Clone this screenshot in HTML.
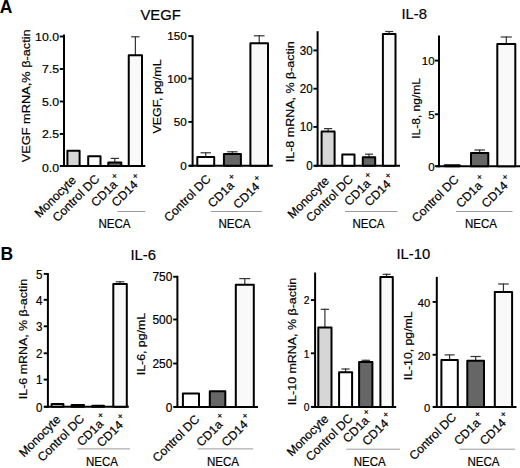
<!DOCTYPE html>
<html><head><meta charset="utf-8">
<style>
html,body{margin:0;padding:0;background:#fff;}
body{width:520px;height:468px;overflow:hidden;}
svg{display:block;}
text{font-family:"Liberation Sans",sans-serif;fill:#000;stroke:#000;stroke-width:0.2px;}
</style></head>
<body>
<svg width="520" height="468" viewBox="0 0 520 468">
<rect width="520" height="468" fill="#fff"/>
<text x="-0.3" y="12.6" font-size="17.5" font-weight="bold" style="stroke-width:0">A</text>
<text x="0.5" y="259.5" font-size="17.5" font-weight="bold" style="stroke-width:0">B</text>
<text transform="translate(140.50,19.60)" font-size="14.8">VEGF</text>
<text transform="translate(401.50,18.70)" font-size="14.8">IL-8</text>
<text transform="translate(130.50,260.00)" font-size="14.8">IL-6</text>
<text transform="translate(396.50,259.20)" font-size="14.8">IL-10</text>
<line x1="64.00" y1="34.50" x2="64.00" y2="167.00" stroke="#000" stroke-width="2"/>
<line x1="60.50" y1="166.00" x2="145.30" y2="166.00" stroke="#000" stroke-width="2"/>
<line x1="59.80" y1="36.50" x2="64.00" y2="36.50" stroke="#000" stroke-width="1.9"/>
<text transform="translate(59.00,40.90) scale(1.09,1)" text-anchor="end" font-size="11.3">10.0</text>
<line x1="59.80" y1="69.00" x2="64.00" y2="69.00" stroke="#000" stroke-width="1.9"/>
<text transform="translate(59.00,73.40) scale(1.09,1)" text-anchor="end" font-size="11.3">7.5</text>
<line x1="59.80" y1="101.50" x2="64.00" y2="101.50" stroke="#000" stroke-width="1.9"/>
<text transform="translate(59.00,105.90) scale(1.09,1)" text-anchor="end" font-size="11.3">5.0</text>
<line x1="59.80" y1="134.00" x2="64.00" y2="134.00" stroke="#000" stroke-width="1.9"/>
<text transform="translate(59.00,138.40) scale(1.09,1)" text-anchor="end" font-size="11.3">2.5</text>
<line x1="59.80" y1="166.00" x2="64.00" y2="166.00" stroke="#000" stroke-width="1.9"/>
<text transform="translate(59.00,172.20) scale(1.09,1)" text-anchor="end" font-size="11.3">0.0</text>
<rect x="67.40" y="150.75" width="12.20" height="15.25" fill="#d6d6d6" stroke="#000" stroke-width="2" stroke-linejoin="round"/>
<rect x="88.20" y="156.30" width="12.30" height="9.70" fill="#ffffff" stroke="#000" stroke-width="2" stroke-linejoin="round"/>
<line x1="114.80" y1="157.90" x2="114.80" y2="162.50" stroke="#333" stroke-width="1.2"/>
<line x1="110.67" y1="158.40" x2="118.92" y2="158.40" stroke="#333" stroke-width="1.2"/>
<rect x="108.30" y="162.50" width="13.00" height="3.50" fill="#666666" stroke="#000" stroke-width="2" stroke-linejoin="round"/>
<line x1="135.38" y1="36.30" x2="135.38" y2="55.20" stroke="#333" stroke-width="1.2"/>
<line x1="131.18" y1="36.80" x2="139.57" y2="36.80" stroke="#333" stroke-width="1.2"/>
<rect x="128.75" y="55.20" width="13.25" height="110.80" fill="#f9f9f9" stroke="#000" stroke-width="2" stroke-linejoin="round"/>
<text transform="translate(29.70,162.20) rotate(-90)" font-size="11.2" textLength="132.90" lengthAdjust="spacingAndGlyphs">VEGF mRNA,%  β-actin</text>
<text transform="translate(76.80,181.00) rotate(-45)" text-anchor="end" font-size="12.2">Monocyte</text>
<text transform="translate(100.15,179.80) rotate(-45)" text-anchor="end" font-size="12.2">Control DC</text>
<text transform="translate(121.80,181.80) rotate(-45) translate(1.6,0)" text-anchor="end" font-size="12.2">CD1a<tspan font-size="9" dx="1.6" dy="-6.2">+</tspan></text>
<text transform="translate(142.38,181.80) rotate(-45) translate(1.6,0)" text-anchor="end" font-size="12.2">CD14<tspan font-size="9" dx="1.6" dy="-6.2">+</tspan></text>
<line x1="117.30" y1="211.50" x2="145.30" y2="211.50" stroke="#9a9a9a" stroke-width="1"/>
<text x="98.50" y="228.00" font-size="12" textLength="32" lengthAdjust="spacingAndGlyphs">NECA</text>
<line x1="192.60" y1="35.30" x2="192.60" y2="166.80" stroke="#000" stroke-width="2"/>
<line x1="189.00" y1="165.80" x2="272.80" y2="165.80" stroke="#000" stroke-width="2"/>
<line x1="188.40" y1="36.10" x2="192.60" y2="36.10" stroke="#000" stroke-width="1.9"/>
<text transform="translate(186.80,40.40) scale(1.0,1)" text-anchor="end" font-size="11.7">150</text>
<line x1="188.40" y1="78.60" x2="192.60" y2="78.60" stroke="#000" stroke-width="1.9"/>
<text transform="translate(186.80,82.90) scale(1.0,1)" text-anchor="end" font-size="11.7">100</text>
<line x1="188.40" y1="121.90" x2="192.60" y2="121.90" stroke="#000" stroke-width="1.9"/>
<text transform="translate(186.80,126.20) scale(1.0,1)" text-anchor="end" font-size="11.7">50</text>
<line x1="188.40" y1="165.80" x2="192.60" y2="165.80" stroke="#000" stroke-width="1.9"/>
<text transform="translate(186.80,170.10) scale(1.0,1)" text-anchor="end" font-size="11.7">0</text>
<line x1="205.75" y1="152.30" x2="205.75" y2="157.00" stroke="#333" stroke-width="1.2"/>
<line x1="200.55" y1="152.80" x2="210.95" y2="152.80" stroke="#333" stroke-width="1.2"/>
<rect x="197.30" y="157.00" width="16.90" height="8.80" fill="#ffffff" stroke="#000" stroke-width="2" stroke-linejoin="round"/>
<line x1="232.40" y1="151.30" x2="232.40" y2="153.90" stroke="#333" stroke-width="1.2"/>
<line x1="227.18" y1="151.80" x2="237.62" y2="151.80" stroke="#333" stroke-width="1.2"/>
<rect x="223.90" y="153.90" width="17.00" height="11.90" fill="#666666" stroke="#000" stroke-width="2" stroke-linejoin="round"/>
<line x1="259.20" y1="35.30" x2="259.20" y2="43.30" stroke="#333" stroke-width="1.2"/>
<line x1="253.81" y1="35.80" x2="264.59" y2="35.80" stroke="#333" stroke-width="1.2"/>
<rect x="250.40" y="43.30" width="17.60" height="122.50" fill="#f9f9f9" stroke="#000" stroke-width="2" stroke-linejoin="round"/>
<text transform="translate(161.10,133.60) rotate(-90)" font-size="11.2" textLength="74.20" lengthAdjust="spacingAndGlyphs">VEGF, pg/mL</text>
<text transform="translate(211.55,179.80) rotate(-45)" text-anchor="end" font-size="12.2">Control DC</text>
<text transform="translate(238.60,182.60) rotate(-45) translate(1.6,0)" text-anchor="end" font-size="12.2">CD1a<tspan font-size="9" dx="1.6" dy="-6.2">+</tspan></text>
<text transform="translate(264.00,183.70) rotate(-45) translate(1.6,0)" text-anchor="end" font-size="12.2">CD14<tspan font-size="9" dx="1.6" dy="-6.2">+</tspan></text>
<line x1="211.00" y1="211.50" x2="262.00" y2="211.50" stroke="#9a9a9a" stroke-width="1"/>
<text x="218.50" y="228.00" font-size="12" textLength="32" lengthAdjust="spacingAndGlyphs">NECA</text>
<line x1="317.60" y1="31.20" x2="317.60" y2="166.80" stroke="#000" stroke-width="2"/>
<line x1="314.50" y1="165.80" x2="400.00" y2="165.80" stroke="#000" stroke-width="2"/>
<line x1="313.40" y1="50.40" x2="317.60" y2="50.40" stroke="#000" stroke-width="1.9"/>
<text transform="translate(312.70,54.80) scale(0.93,1)" text-anchor="end" font-size="12.5">30</text>
<line x1="313.40" y1="88.70" x2="317.60" y2="88.70" stroke="#000" stroke-width="1.9"/>
<text transform="translate(312.70,93.10) scale(0.93,1)" text-anchor="end" font-size="12.5">20</text>
<line x1="313.40" y1="126.90" x2="317.60" y2="126.90" stroke="#000" stroke-width="1.9"/>
<text transform="translate(312.70,131.30) scale(0.93,1)" text-anchor="end" font-size="12.5">10</text>
<line x1="313.40" y1="165.80" x2="317.60" y2="165.80" stroke="#000" stroke-width="1.9"/>
<text transform="translate(312.70,170.20) scale(0.93,1)" text-anchor="end" font-size="12.5">0</text>
<line x1="328.10" y1="128.10" x2="328.10" y2="131.60" stroke="#333" stroke-width="1.2"/>
<line x1="323.98" y1="128.60" x2="332.23" y2="128.60" stroke="#333" stroke-width="1.2"/>
<rect x="321.60" y="131.60" width="13.00" height="34.20" fill="#d6d6d6" stroke="#000" stroke-width="2" stroke-linejoin="round"/>
<rect x="342.30" y="154.50" width="12.20" height="11.30" fill="#ffffff" stroke="#000" stroke-width="2" stroke-linejoin="round"/>
<line x1="369.00" y1="153.70" x2="369.00" y2="157.20" stroke="#333" stroke-width="1.2"/>
<line x1="365.04" y1="154.20" x2="372.96" y2="154.20" stroke="#333" stroke-width="1.2"/>
<rect x="362.80" y="157.20" width="12.40" height="8.60" fill="#666666" stroke="#000" stroke-width="2" stroke-linejoin="round"/>
<line x1="389.20" y1="31.00" x2="389.20" y2="34.10" stroke="#333" stroke-width="1.2"/>
<line x1="385.19" y1="31.50" x2="393.21" y2="31.50" stroke="#333" stroke-width="1.2"/>
<rect x="382.90" y="34.10" width="12.60" height="131.70" fill="#f9f9f9" stroke="#000" stroke-width="2" stroke-linejoin="round"/>
<text transform="translate(294.00,162.20) rotate(-90)" font-size="11.2" textLength="120.90" lengthAdjust="spacingAndGlyphs">IL-8 mRNA, % β-actin</text>
<text transform="translate(329.90,181.80) rotate(-45)" text-anchor="end" font-size="12.2">Monocyte</text>
<text transform="translate(353.70,180.10) rotate(-45)" text-anchor="end" font-size="12.2">Control DC</text>
<text transform="translate(375.00,180.80) rotate(-45) translate(1.6,0)" text-anchor="end" font-size="12.2">CD1a<tspan font-size="9" dx="1.6" dy="-6.2">+</tspan></text>
<text transform="translate(395.20,181.30) rotate(-45) translate(1.6,0)" text-anchor="end" font-size="12.2">CD14<tspan font-size="9" dx="1.6" dy="-6.2">+</tspan></text>
<line x1="345.00" y1="211.50" x2="397.50" y2="211.50" stroke="#9a9a9a" stroke-width="1"/>
<text x="352.50" y="228.00" font-size="12" textLength="32" lengthAdjust="spacingAndGlyphs">NECA</text>
<line x1="439.00" y1="35.60" x2="439.00" y2="167.20" stroke="#000" stroke-width="2"/>
<line x1="436.00" y1="166.20" x2="520.00" y2="166.20" stroke="#000" stroke-width="2"/>
<line x1="434.80" y1="60.60" x2="439.00" y2="60.60" stroke="#000" stroke-width="1.9"/>
<text transform="translate(434.60,65.40) scale(1.0,1)" text-anchor="end" font-size="11.5">10</text>
<line x1="434.80" y1="114.30" x2="439.00" y2="114.30" stroke="#000" stroke-width="1.9"/>
<text transform="translate(434.60,119.10) scale(1.0,1)" text-anchor="end" font-size="11.5">5</text>
<line x1="434.80" y1="166.20" x2="439.00" y2="166.20" stroke="#000" stroke-width="1.9"/>
<text transform="translate(434.60,171.00) scale(1.0,1)" text-anchor="end" font-size="11.5">0</text>
<rect x="444.80" y="165.20" width="14.80" height="1.00" fill="#ffffff" stroke="#000" stroke-width="2" stroke-linejoin="round"/>
<line x1="479.65" y1="149.50" x2="479.65" y2="152.90" stroke="#333" stroke-width="1.2"/>
<line x1="474.34" y1="150.00" x2="484.96" y2="150.00" stroke="#333" stroke-width="1.2"/>
<rect x="471.00" y="152.90" width="17.30" height="13.30" fill="#666666" stroke="#000" stroke-width="2" stroke-linejoin="round"/>
<line x1="506.30" y1="36.50" x2="506.30" y2="44.10" stroke="#333" stroke-width="1.2"/>
<line x1="500.80" y1="37.00" x2="511.80" y2="37.00" stroke="#333" stroke-width="1.2"/>
<rect x="497.30" y="44.10" width="18.00" height="122.10" fill="#f9f9f9" stroke="#000" stroke-width="2" stroke-linejoin="round"/>
<text transform="translate(419.70,138.80) rotate(-90)" font-size="11.2" textLength="60.80" lengthAdjust="spacingAndGlyphs">IL-8, ng/mL</text>
<text transform="translate(459.50,180.30) rotate(-45)" text-anchor="end" font-size="12.2">Control DC</text>
<text transform="translate(486.65,182.80) rotate(-45) translate(1.6,0)" text-anchor="end" font-size="12.2">CD1a<tspan font-size="9" dx="1.6" dy="-6.2">+</tspan></text>
<text transform="translate(512.30,182.80) rotate(-45) translate(1.6,0)" text-anchor="end" font-size="12.2">CD14<tspan font-size="9" dx="1.6" dy="-6.2">+</tspan></text>
<line x1="456.00" y1="211.50" x2="512.50" y2="211.50" stroke="#9a9a9a" stroke-width="1"/>
<text x="465.00" y="228.00" font-size="12" textLength="32" lengthAdjust="spacingAndGlyphs">NECA</text>
<line x1="47.90" y1="273.00" x2="47.90" y2="407.80" stroke="#000" stroke-width="2"/>
<line x1="44.40" y1="406.80" x2="128.80" y2="406.80" stroke="#000" stroke-width="2"/>
<line x1="43.70" y1="273.90" x2="47.90" y2="273.90" stroke="#000" stroke-width="1.9"/>
<text transform="translate(42.40,278.70) scale(0.93,1)" text-anchor="end" font-size="12.5">5</text>
<line x1="43.70" y1="299.80" x2="47.90" y2="299.80" stroke="#000" stroke-width="1.9"/>
<text transform="translate(42.40,304.60) scale(0.93,1)" text-anchor="end" font-size="12.5">4</text>
<line x1="43.70" y1="326.30" x2="47.90" y2="326.30" stroke="#000" stroke-width="1.9"/>
<text transform="translate(42.40,331.10) scale(0.93,1)" text-anchor="end" font-size="12.5">3</text>
<line x1="43.70" y1="353.30" x2="47.90" y2="353.30" stroke="#000" stroke-width="1.9"/>
<text transform="translate(42.40,358.10) scale(0.93,1)" text-anchor="end" font-size="12.5">2</text>
<line x1="43.70" y1="379.60" x2="47.90" y2="379.60" stroke="#000" stroke-width="1.9"/>
<text transform="translate(42.40,384.40) scale(0.93,1)" text-anchor="end" font-size="12.5">1</text>
<line x1="43.70" y1="406.80" x2="47.90" y2="406.80" stroke="#000" stroke-width="1.9"/>
<text transform="translate(42.40,411.60) scale(0.93,1)" text-anchor="end" font-size="12.5">0</text>
<rect x="51.60" y="404.00" width="11.80" height="2.80" fill="#d6d6d6" stroke="#000" stroke-width="2" stroke-linejoin="round"/>
<rect x="71.60" y="405.00" width="12.40" height="1.80" fill="#ffffff" stroke="#000" stroke-width="2" stroke-linejoin="round"/>
<rect x="92.30" y="405.70" width="11.70" height="1.10" fill="#666666" stroke="#000" stroke-width="2" stroke-linejoin="round"/>
<line x1="120.05" y1="281.30" x2="120.05" y2="284.10" stroke="#333" stroke-width="1.2"/>
<line x1="115.79" y1="281.80" x2="124.31" y2="281.80" stroke="#333" stroke-width="1.2"/>
<rect x="113.30" y="284.10" width="13.50" height="122.70" fill="#f9f9f9" stroke="#000" stroke-width="2" stroke-linejoin="round"/>
<text transform="translate(27.40,399.20) rotate(-90)" font-size="11.2" textLength="120.30" lengthAdjust="spacingAndGlyphs">IL-6 mRNA, % β-actin</text>
<text transform="translate(61.30,420.30) rotate(-45)" text-anchor="end" font-size="12.2">Monocyte</text>
<text transform="translate(85.10,419.60) rotate(-45)" text-anchor="end" font-size="12.2">Control DC</text>
<text transform="translate(107.65,421.10) rotate(-45) translate(1.6,0)" text-anchor="end" font-size="12.2">CD1a<tspan font-size="9" dx="1.6" dy="-6.2">+</tspan></text>
<text transform="translate(127.55,422.10) rotate(-45) translate(1.6,0)" text-anchor="end" font-size="12.2">CD14<tspan font-size="9" dx="1.6" dy="-6.2">+</tspan></text>
<line x1="77.50" y1="448.90" x2="130.00" y2="448.90" stroke="#9a9a9a" stroke-width="1"/>
<text x="86.00" y="466.30" font-size="12" textLength="32" lengthAdjust="spacingAndGlyphs">NECA</text>
<line x1="177.40" y1="275.80" x2="177.40" y2="407.90" stroke="#000" stroke-width="2"/>
<line x1="174.40" y1="406.90" x2="258.00" y2="406.90" stroke="#000" stroke-width="2"/>
<line x1="173.20" y1="276.75" x2="177.40" y2="276.75" stroke="#000" stroke-width="1.9"/>
<text transform="translate(172.35,281.35) scale(1.0,1)" text-anchor="end" font-size="11.9">750</text>
<line x1="173.20" y1="319.50" x2="177.40" y2="319.50" stroke="#000" stroke-width="1.9"/>
<text transform="translate(172.35,324.10) scale(1.0,1)" text-anchor="end" font-size="11.9">500</text>
<line x1="173.20" y1="363.50" x2="177.40" y2="363.50" stroke="#000" stroke-width="1.9"/>
<text transform="translate(172.35,368.10) scale(1.0,1)" text-anchor="end" font-size="11.9">250</text>
<line x1="173.20" y1="406.90" x2="177.40" y2="406.90" stroke="#000" stroke-width="1.9"/>
<text transform="translate(172.35,411.50) scale(1.0,1)" text-anchor="end" font-size="11.9">0</text>
<rect x="182.90" y="393.50" width="16.10" height="13.40" fill="#ffffff" stroke="#000" stroke-width="2" stroke-linejoin="round"/>
<rect x="209.80" y="391.30" width="15.50" height="15.60" fill="#666666" stroke="#000" stroke-width="2" stroke-linejoin="round"/>
<line x1="244.80" y1="278.10" x2="244.80" y2="284.80" stroke="#333" stroke-width="1.2"/>
<line x1="239.30" y1="278.60" x2="250.30" y2="278.60" stroke="#333" stroke-width="1.2"/>
<rect x="235.80" y="284.80" width="18.00" height="122.10" fill="#f9f9f9" stroke="#000" stroke-width="2" stroke-linejoin="round"/>
<text transform="translate(145.40,375.20) rotate(-90)" font-size="11.2" textLength="62.20" lengthAdjust="spacingAndGlyphs">IL-6, pg/mL</text>
<text transform="translate(200.25,420.10) rotate(-45)" text-anchor="end" font-size="12.2">Control DC</text>
<text transform="translate(227.05,421.60) rotate(-45) translate(1.6,0)" text-anchor="end" font-size="12.2">CD1a<tspan font-size="9" dx="1.6" dy="-6.2">+</tspan></text>
<text transform="translate(252.30,421.60) rotate(-45) translate(1.6,0)" text-anchor="end" font-size="12.2">CD14<tspan font-size="9" dx="1.6" dy="-6.2">+</tspan></text>
<line x1="197.70" y1="448.90" x2="253.20" y2="448.90" stroke="#9a9a9a" stroke-width="1"/>
<text x="207.00" y="466.30" font-size="12" textLength="32" lengthAdjust="spacingAndGlyphs">NECA</text>
<line x1="315.10" y1="272.50" x2="315.10" y2="407.90" stroke="#000" stroke-width="2"/>
<line x1="311.90" y1="406.90" x2="396.20" y2="406.90" stroke="#000" stroke-width="2"/>
<line x1="310.90" y1="300.10" x2="315.10" y2="300.10" stroke="#000" stroke-width="1.9"/>
<text transform="translate(309.60,304.40) scale(0.92,1)" text-anchor="end" font-size="11.2">2</text>
<line x1="310.90" y1="353.30" x2="315.10" y2="353.30" stroke="#000" stroke-width="1.9"/>
<text transform="translate(309.60,357.60) scale(0.92,1)" text-anchor="end" font-size="11.2">1</text>
<line x1="310.90" y1="406.90" x2="315.10" y2="406.90" stroke="#000" stroke-width="1.9"/>
<text transform="translate(309.60,411.20) scale(0.92,1)" text-anchor="end" font-size="11.2">0</text>
<line x1="324.90" y1="308.80" x2="324.90" y2="327.50" stroke="#333" stroke-width="1.2"/>
<line x1="320.72" y1="309.30" x2="329.08" y2="309.30" stroke="#333" stroke-width="1.2"/>
<rect x="318.30" y="327.50" width="13.20" height="79.40" fill="#d6d6d6" stroke="#000" stroke-width="2" stroke-linejoin="round"/>
<line x1="345.60" y1="368.50" x2="345.60" y2="372.30" stroke="#333" stroke-width="1.2"/>
<line x1="341.48" y1="369.00" x2="349.73" y2="369.00" stroke="#333" stroke-width="1.2"/>
<rect x="339.10" y="372.30" width="13.00" height="34.60" fill="#ffffff" stroke="#000" stroke-width="2" stroke-linejoin="round"/>
<line x1="365.75" y1="359.80" x2="365.75" y2="362.00" stroke="#333" stroke-width="1.2"/>
<line x1="361.54" y1="360.30" x2="369.96" y2="360.30" stroke="#333" stroke-width="1.2"/>
<rect x="359.10" y="362.00" width="13.30" height="44.90" fill="#666666" stroke="#000" stroke-width="2" stroke-linejoin="round"/>
<line x1="386.60" y1="273.80" x2="386.60" y2="277.00" stroke="#333" stroke-width="1.2"/>
<line x1="382.64" y1="274.30" x2="390.56" y2="274.30" stroke="#333" stroke-width="1.2"/>
<rect x="380.40" y="277.00" width="12.40" height="129.90" fill="#f9f9f9" stroke="#000" stroke-width="2" stroke-linejoin="round"/>
<text transform="translate(296.40,405.30) rotate(-90)" font-size="11.2" textLength="127.40" lengthAdjust="spacingAndGlyphs">IL-10 mRNA, % β-actin</text>
<text transform="translate(329.20,419.60) rotate(-45)" text-anchor="end" font-size="12.2">Monocyte</text>
<text transform="translate(353.40,419.10) rotate(-45)" text-anchor="end" font-size="12.2">Control DC</text>
<text transform="translate(373.55,417.80) rotate(-45) translate(1.6,0)" text-anchor="end" font-size="12.2">CD1a<tspan font-size="9" dx="1.6" dy="-6.2">+</tspan></text>
<text transform="translate(392.90,420.40) rotate(-45) translate(1.6,0)" text-anchor="end" font-size="12.2">CD14<tspan font-size="9" dx="1.6" dy="-6.2">+</tspan></text>
<line x1="346.30" y1="449.20" x2="400.00" y2="449.20" stroke="#9a9a9a" stroke-width="1"/>
<text x="353.80" y="466.30" font-size="12" textLength="32" lengthAdjust="spacingAndGlyphs">NECA</text>
<line x1="436.80" y1="276.90" x2="436.80" y2="407.90" stroke="#000" stroke-width="2"/>
<line x1="433.00" y1="406.90" x2="516.50" y2="406.90" stroke="#000" stroke-width="2"/>
<line x1="432.60" y1="301.90" x2="436.80" y2="301.90" stroke="#000" stroke-width="1.9"/>
<text transform="translate(430.30,306.90) scale(0.97,1)" text-anchor="end" font-size="11.6">40</text>
<line x1="432.60" y1="354.75" x2="436.80" y2="354.75" stroke="#000" stroke-width="1.9"/>
<text transform="translate(430.30,359.75) scale(0.97,1)" text-anchor="end" font-size="11.6">20</text>
<line x1="432.60" y1="406.90" x2="436.80" y2="406.90" stroke="#000" stroke-width="1.9"/>
<text transform="translate(430.30,411.90) scale(0.97,1)" text-anchor="end" font-size="11.6">0</text>
<line x1="449.60" y1="354.40" x2="449.60" y2="360.00" stroke="#333" stroke-width="1.2"/>
<line x1="444.54" y1="354.90" x2="454.66" y2="354.90" stroke="#333" stroke-width="1.2"/>
<rect x="441.40" y="360.00" width="16.40" height="46.90" fill="#ffffff" stroke="#000" stroke-width="2" stroke-linejoin="round"/>
<line x1="475.65" y1="356.00" x2="475.65" y2="360.80" stroke="#333" stroke-width="1.2"/>
<line x1="470.51" y1="356.50" x2="480.79" y2="356.50" stroke="#333" stroke-width="1.2"/>
<rect x="467.30" y="360.80" width="16.70" height="46.10" fill="#666666" stroke="#000" stroke-width="2" stroke-linejoin="round"/>
<line x1="503.45" y1="283.50" x2="503.45" y2="292.00" stroke="#333" stroke-width="1.2"/>
<line x1="498.14" y1="284.00" x2="508.76" y2="284.00" stroke="#333" stroke-width="1.2"/>
<rect x="494.80" y="292.00" width="17.30" height="114.90" fill="#f9f9f9" stroke="#000" stroke-width="2" stroke-linejoin="round"/>
<text transform="translate(411.70,380.20) rotate(-90)" font-size="11.2" textLength="68.80" lengthAdjust="spacingAndGlyphs">IL-10, pg/mL</text>
<text transform="translate(456.90,418.10) rotate(-45)" text-anchor="end" font-size="12.2">Control DC</text>
<text transform="translate(484.65,420.10) rotate(-45) translate(1.6,0)" text-anchor="end" font-size="12.2">CD1a<tspan font-size="9" dx="1.6" dy="-6.2">+</tspan></text>
<text transform="translate(510.45,420.10) rotate(-45) translate(1.6,0)" text-anchor="end" font-size="12.2">CD14<tspan font-size="9" dx="1.6" dy="-6.2">+</tspan></text>
<line x1="459.40" y1="449.20" x2="515.00" y2="449.20" stroke="#9a9a9a" stroke-width="1"/>
<text x="467.50" y="466.30" font-size="12" textLength="32" lengthAdjust="spacingAndGlyphs">NECA</text>
</svg>
</body></html>
